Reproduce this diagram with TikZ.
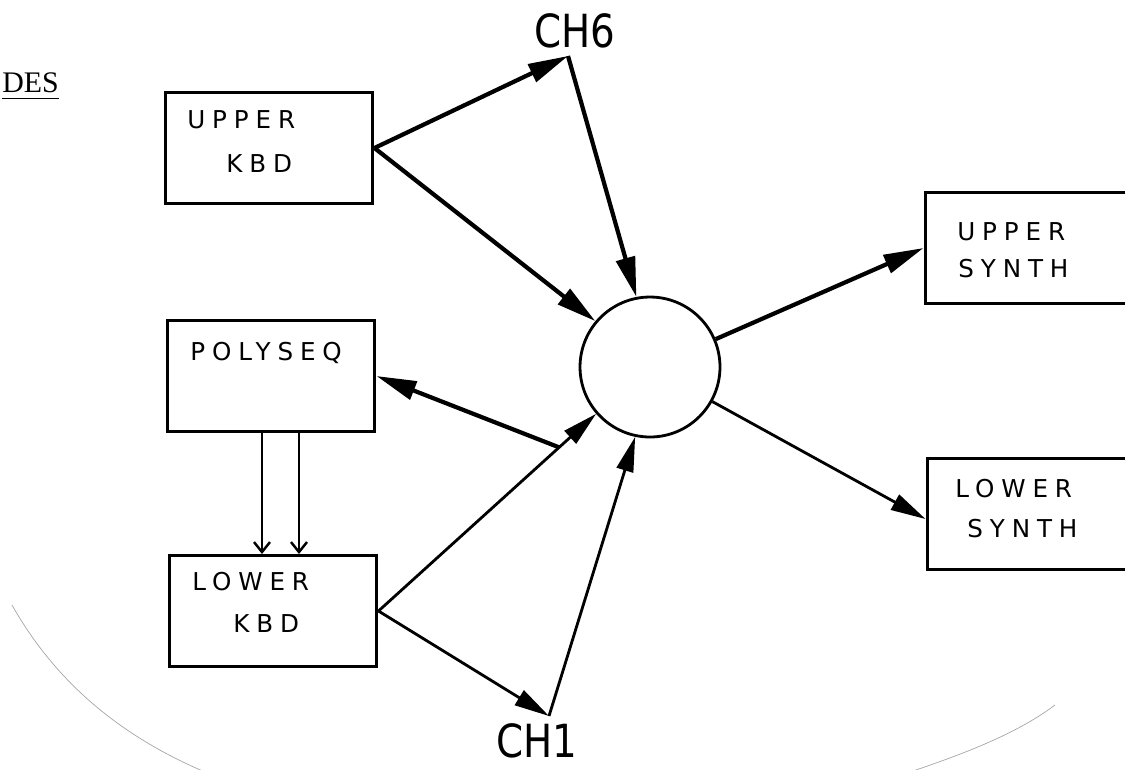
\documentclass[tikz,border=0pt]{standalone}
\usepackage{fontspec}
\setmainfont{Liberation Serif}
\newfontfamily\handfont[LetterSpace=28]{DejaVu Sans}
\newfontfamily\chfont{DejaVu Sans}
\usetikzlibrary{calc, positioning}
\usetikzlibrary{arrows.meta}

\begin{document}
\begin{tikzpicture}[x=0.02cm, y=-0.02cm,
  box/.style={draw, line width=1.7pt, minimum width=4.16cm, minimum height=2.22cm, inner sep=0pt},
  lbl/.style={anchor=base west, font=\handfont\fontsize{14}{14}\selectfont, inner sep=0pt},
  chlbl/.style={font=\chfont\fontsize{26}{26}\selectfont, xscale=0.85, inner sep=0pt},
  flow/.style={line width=2.4pt, -{Triangle[length=8mm,width=3.8mm]}},
  thin flow/.style={line width=1.6pt, -{Triangle[length=7mm,width=3.4mm]}},
  bar/.style={line width=1.4pt, -{Straight Barb[length=2mm,width=3.2mm]}},
  page edge/.style={draw=gray!70, line width=0.4pt}]
\useasboundingbox (0,0) rectangle (1125,769);
\clip (0,0) rectangle (1125,769);

% heading
\node[anchor=base west, font=\fontsize{17}{17}\selectfont, inner sep=0pt] (des) at (2,92) {DES};
\draw[line width=0.8pt] ([yshift=-0.13cm]des.base west) -- ([yshift=-0.13cm]des.base east);

% keyboards and sequencer
\node[box] (ukbd) at (269,148) {};
\node[lbl] (ukbd1) at (187,128) {UPPER};
\node[lbl] (ukbd2) at (226,172) {KBD};

\node[box] (pseq) at (271,376) {};
\node[lbl] (pseq1) at (190,360) {POLYSEQ};

\node[box] (lkbd) at (273,611) {};
\node[lbl] (lkbd1) at (192,590) {LOWER};
\node[lbl] (lkbd2) at (233,632) {KBD};

% synths
\node[box, minimum width=4.2cm] (usyn) at (1030,248) {};
\node[lbl] (usyn1) at (957,240) {UPPER};
\node[lbl] (usyn2) at (958,277) {SYNTH};

\node[box, minimum width=4.2cm] (lsyn) at (1032,514) {};
\node[lbl] (lsyn1) at (955,497) {LOWER};
\node[lbl] (lsyn2) at (967,537) {SYNTH};

% merge point and channels
\node[draw, circle, line width=1.6pt, minimum size=2.8cm, inner sep=0pt] (mix) at (650,367) {};
\coordinate (ch6tip) at (568,56);
\node[chlbl] (ch6) at (575,31) {CH6};
\coordinate (ch1tip) at (549,716);
\node[chlbl] (ch1) at (537,741) {CH1};

% connections
\draw[flow] (ukbd.east) -- (ch6tip);
\draw[flow] (ukbd.east) -- (mix.140);
\draw[flow] (ch6tip) -- (mix.101);
\draw[thin flow] (lkbd.east) -- (mix.221);
\coordinate (junc) at ($(lkbd.east)!0.83!(mix.221)$);
\draw[flow] (junc) -- (pseq.east);
\draw[thin flow] (lkbd.east) -- (ch1tip);
\draw[thin flow] (ch1tip) -- (mix.258);
\draw[flow] (mix.23) -- (usyn.west);
\draw[thin flow] (mix.-29) -- ([yshift=-0.1cm]lsyn.west);

\draw[bar] ([xshift=-0.18cm]pseq.south) -- ([xshift=-0.18cm]pseq.south |- lkbd.north);
\draw[bar] ([xshift=0.56cm]pseq.south) -- ([xshift=0.56cm]pseq.south |- lkbd.north);

% edge of the page
\draw[page edge] (12,605) .. controls (60,690) and (130,740) .. (205,772);
\draw[page edge] (910,772) .. controls (960,755) and (1015,735) .. (1055,705);
\end{tikzpicture}
\end{document}
